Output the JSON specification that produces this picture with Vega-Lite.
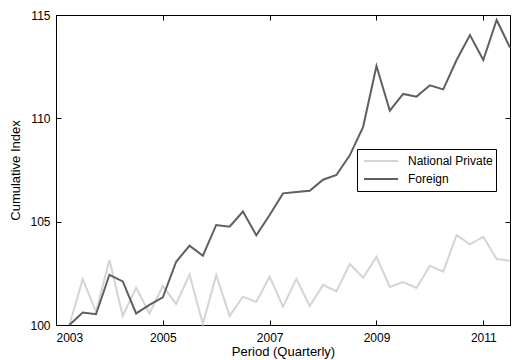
{
  "$schema": "https://vega.github.io/schema/vega-lite/v6.json",
  "width": 454,
  "height": 310,
  "autosize": {"type": "none"},
  "padding": {"left": 56, "top": 15, "right": 5, "bottom": 35},
  "background": "white",
  "config": {
    "view": {"stroke": "black", "strokeWidth": 1},
    "font": "Liberation Sans",
    "axis": {
      "labelFont": "Liberation Sans",
      "labelFontSize": 12,
      "labelColor": "black",
      "titleFont": "Liberation Sans",
      "titleFontSize": 13,
      "titleFontWeight": "normal",
      "titleColor": "black",
      "domainColor": "black",
      "tickColor": "black",
      "grid": false,
      "tickSize": -5
    },
    "legend": {
      "labelFont": "Liberation Sans",
      "labelFontSize": 12,
      "labelColor": "black"
    }
  },
  "data": {
    "values": [
      {"period": 2003.25, "series": "National Private", "value": 100.0},
      {"period": 2003.5, "series": "National Private", "value": 102.21},
      {"period": 2003.75, "series": "National Private", "value": 100.64},
      {"period": 2004.0, "series": "National Private", "value": 103.14},
      {"period": 2004.25, "series": "National Private", "value": 100.44},
      {"period": 2004.5, "series": "National Private", "value": 101.8},
      {"period": 2004.75, "series": "National Private", "value": 100.56},
      {"period": 2005.0, "series": "National Private", "value": 101.89},
      {"period": 2005.25, "series": "National Private", "value": 101.02},
      {"period": 2005.5, "series": "National Private", "value": 102.45},
      {"period": 2005.75, "series": "National Private", "value": 100.05},
      {"period": 2006.0, "series": "National Private", "value": 102.42},
      {"period": 2006.25, "series": "National Private", "value": 100.44},
      {"period": 2006.5, "series": "National Private", "value": 101.37},
      {"period": 2006.75, "series": "National Private", "value": 101.11},
      {"period": 2007.0, "series": "National Private", "value": 102.34},
      {"period": 2007.25, "series": "National Private", "value": 100.89},
      {"period": 2007.5, "series": "National Private", "value": 102.23},
      {"period": 2007.75, "series": "National Private", "value": 100.92},
      {"period": 2008.0, "series": "National Private", "value": 101.94},
      {"period": 2008.25, "series": "National Private", "value": 101.62},
      {"period": 2008.5, "series": "National Private", "value": 102.95},
      {"period": 2008.75, "series": "National Private", "value": 102.29},
      {"period": 2009.0, "series": "National Private", "value": 103.3},
      {"period": 2009.25, "series": "National Private", "value": 101.84},
      {"period": 2009.5, "series": "National Private", "value": 102.08},
      {"period": 2009.75, "series": "National Private", "value": 101.79},
      {"period": 2010.0, "series": "National Private", "value": 102.87},
      {"period": 2010.25, "series": "National Private", "value": 102.58},
      {"period": 2010.5, "series": "National Private", "value": 104.35},
      {"period": 2010.75, "series": "National Private", "value": 103.9},
      {"period": 2011.0, "series": "National Private", "value": 104.27},
      {"period": 2011.25, "series": "National Private", "value": 103.19},
      {"period": 2011.5, "series": "National Private", "value": 103.11},
      {"period": 2003.25, "series": "Foreign", "value": 100.0},
      {"period": 2003.5, "series": "Foreign", "value": 100.6},
      {"period": 2003.75, "series": "Foreign", "value": 100.52},
      {"period": 2004.0, "series": "Foreign", "value": 102.43},
      {"period": 2004.25, "series": "Foreign", "value": 102.11},
      {"period": 2004.5, "series": "Foreign", "value": 100.56},
      {"period": 2004.75, "series": "Foreign", "value": 100.97},
      {"period": 2005.0, "series": "Foreign", "value": 101.34},
      {"period": 2005.25, "series": "Foreign", "value": 103.06},
      {"period": 2005.5, "series": "Foreign", "value": 103.84},
      {"period": 2005.75, "series": "Foreign", "value": 103.35},
      {"period": 2006.0, "series": "Foreign", "value": 104.84},
      {"period": 2006.25, "series": "Foreign", "value": 104.76},
      {"period": 2006.5, "series": "Foreign", "value": 105.49},
      {"period": 2006.75, "series": "Foreign", "value": 104.34},
      {"period": 2007.0, "series": "Foreign", "value": 105.32},
      {"period": 2007.25, "series": "Foreign", "value": 106.37},
      {"period": 2007.5, "series": "Foreign", "value": 106.43},
      {"period": 2007.75, "series": "Foreign", "value": 106.5},
      {"period": 2008.0, "series": "Foreign", "value": 107.03},
      {"period": 2008.25, "series": "Foreign", "value": 107.26},
      {"period": 2008.5, "series": "Foreign", "value": 108.21},
      {"period": 2008.75, "series": "Foreign", "value": 109.59},
      {"period": 2009.0, "series": "Foreign", "value": 112.53},
      {"period": 2009.25, "series": "Foreign", "value": 110.37},
      {"period": 2009.5, "series": "Foreign", "value": 111.18},
      {"period": 2009.75, "series": "Foreign", "value": 111.05},
      {"period": 2010.0, "series": "Foreign", "value": 111.6},
      {"period": 2010.25, "series": "Foreign", "value": 111.4},
      {"period": 2010.5, "series": "Foreign", "value": 112.82},
      {"period": 2010.75, "series": "Foreign", "value": 114.03},
      {"period": 2011.0, "series": "Foreign", "value": 112.82},
      {"period": 2011.25, "series": "Foreign", "value": 114.76},
      {"period": 2011.5, "series": "Foreign", "value": 113.42}
    ]
  },
  "resolve": {"axis": {"x": "independent", "y": "independent"}},
  "layer": [
    {
      "mark": {"type": "line", "strokeWidth": 2, "opacity": 0},
      "encoding": {
        "x": {
          "field": "period", "type": "quantitative",
          "scale": {"domain": [2003, 2011.5], "nice": false, "zero": false},
          "axis": {"orient": "top", "labels": false, "title": null, "values": [2003, 2005, 2007, 2009, 2011]}
        },
        "y": {
          "field": "value", "type": "quantitative",
          "scale": {"domain": [100, 115], "nice": false, "zero": false},
          "axis": {"orient": "right", "labels": false, "title": null, "values": [100, 105, 110, 115]}
        },
        "detail": {"field": "series"}
      }
    },
    {
      "mark": {"type": "line", "strokeWidth": 2},
      "encoding": {
        "x": {
          "field": "period", "type": "quantitative",
          "axis": {"orient": "bottom", "title": "Period (Quarterly)", "values": [2003, 2005, 2007, 2009, 2011], "format": "d", "labelPadding": 12, "titlePadding": 2}
        },
        "y": {
          "field": "value", "type": "quantitative",
          "axis": {"orient": "left", "title": "Cumulative Index", "values": [100, 105, 110, 115], "format": "d", "labelPadding": 11, "titlePadding": 7}
        },
        "color": {
          "field": "series", "type": "nominal",
          "scale": {"domain": ["National Private", "Foreign"], "range": ["#d4d4d4", "#5f5f5f"]},
          "legend": {
            "title": null,
            "orient": "none",
            "legendX": 301,
            "legendY": 134,
            "symbolType": "stroke",
            "symbolSize": 1156,
            "symbolStrokeWidth": 2,
            "clipHeight": 18,
            "rowPadding": 0,
            "symbolOffset": 3,
            "labelOffset": 9,
            "padding": 3,
            "strokeColor": "black",
            "fillColor": "white",
            "labelExpr": "datum.label + '\u00a0\u00a0\u00a0\u00a0\u00a0\u00a0'"
          }
        }
      }
    }
  ]
}
